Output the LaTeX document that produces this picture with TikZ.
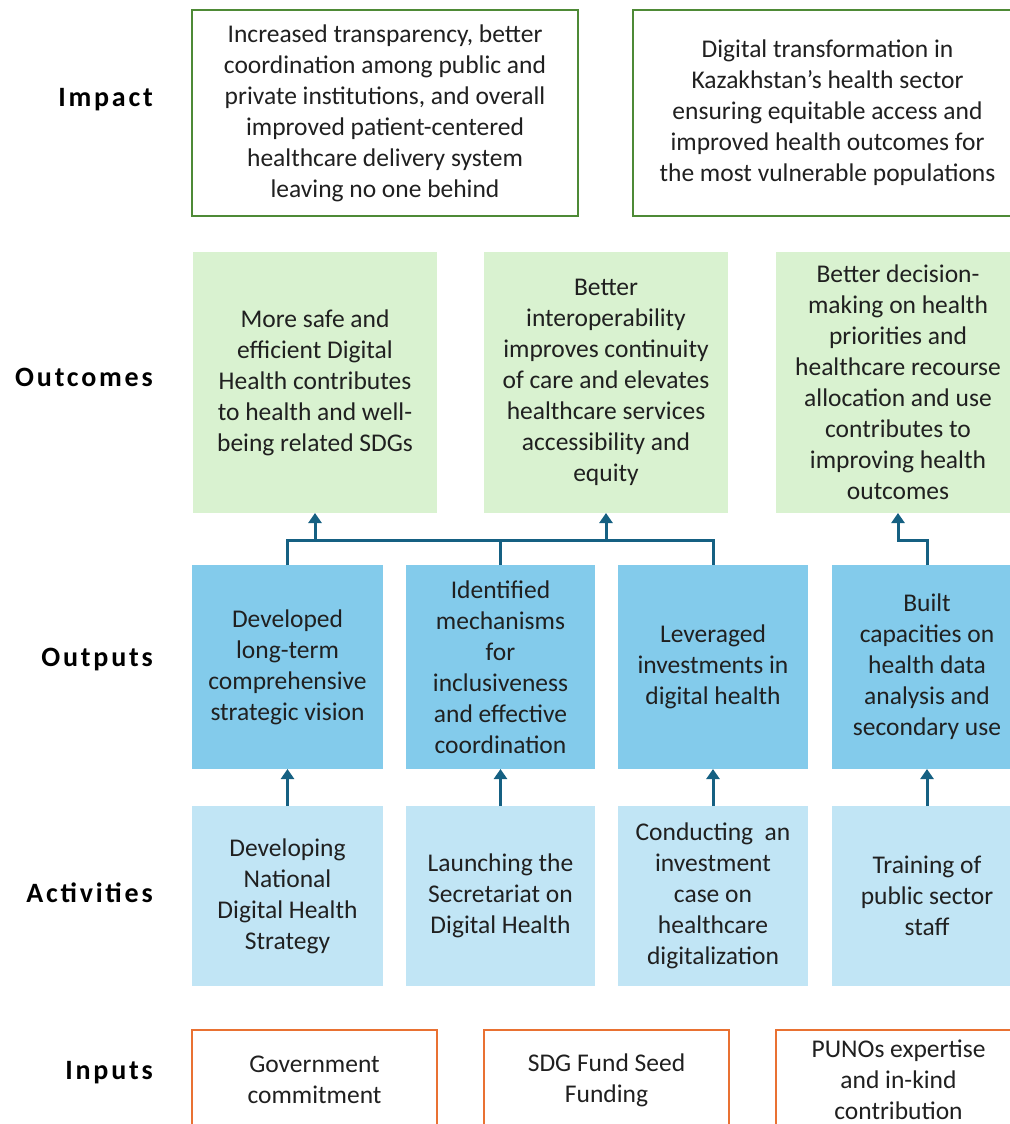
\documentclass[tikz,border=0pt]{standalone}
\usepackage{fontspec}
\setmainfont{Carlito}
\newfontfamily\rowfont[LetterSpace=10]{Carlito}
\usetikzlibrary{arrows.meta,positioning}
\definecolor{ImpactGreen}{HTML}{4E8A36}
\definecolor{OutcomeFill}{HTML}{D9F2D0}
\definecolor{OutputFill}{HTML}{83CBEB}
\definecolor{ActivityFill}{HTML}{C1E5F5}
\definecolor{InputOrange}{HTML}{E97132}
\definecolor{LinkBlue}{HTML}{156082}
\definecolor{TextGray}{HTML}{202020}

\begin{document}
\begin{tikzpicture}[
    x=1pt,y=-1pt,
    box/.style={inner sep=0pt,outer sep=0pt,align=center,text=TextGray,
      font=\fontsize{25.5}{31}\selectfont},
    impactbox/.style={box,draw=ImpactGreen,line width=2.5pt,fill=white,minimum height=206pt},
    outcomebox/.style={box,fill=OutcomeFill,minimum width=244pt,minimum height=261pt},
    outputbox/.style={box,fill=OutputFill,minimum height=204pt},
    activitybox/.style={box,fill=ActivityFill,minimum height=180pt},
    inputbox/.style={box,draw=InputOrange,line width=2.5pt,fill=white,
      minimum width=245pt,minimum height=100pt},
    rowlabel/.style={anchor=east,inner sep=0pt,text=black,
      font=\fontsize{28}{32}\selectfont\rowfont\bfseries},
    wire/.style={line width=3pt,draw=LinkBlue},
    arr/.style={wire,-{Triangle[length=10pt,width=13pt]}}
  ]
    \useasboundingbox (0,0) rectangle (1009,1124);

    % row labels
    \node[rowlabel] (limpact) at (153,100) {Impact};
    \node[rowlabel] (loutcomes) at (153,377) {Outcomes};
    \node[rowlabel] (loutputs) at (153,660) {Outputs};
    \node[rowlabel] (lactivities) at (153,893) {Activities};
    \node[rowlabel] (linputs) at (153,1073) {Inputs};

    % impact
    \node[impactbox,minimum width=386pt] (imp1) at (385,113)
      {Increased transparency, better\\coordination among public and\\private institutions, and overall\\improved patient-centered\\healthcare delivery system\\leaving no one behind};
    \node[impactbox,minimum width=389pt,right=55pt of imp1] (imp2)
      {Digital transformation in\\Kazakhstan's health sector\\ensuring equitable access and\\improved health outcomes for\\the most vulnerable populations};

    % outcomes
    \node[outcomebox] (oc1) at (315,382.5)
      {More safe and\\efficient Digital\\Health contributes\\to health and well-\\being related SDGs};
    \node[outcomebox,right=47pt of oc1] (oc2)
      {Better\\interoperability\\improves continuity\\of care and elevates\\healthcare services\\accessibility and\\equity};
    \node[outcomebox,right=48pt of oc2] (oc3)
      {Better decision-\\making on health\\priorities and\\healthcare recourse\\allocation and use\\contributes to\\improving health\\outcomes};

    % outputs
    \node[outputbox,minimum width=191pt] (out1) at (287.5,667)
      {Developed\\long-term\\comprehensive\\strategic vision};
    \node[outputbox,minimum width=189pt,right=23pt of out1] (out2)
      {Identified\\mechanisms\\for\\inclusiveness\\and effective\\coordination};
    \node[outputbox,minimum width=190pt,right=23pt of out2] (out3)
      {Leveraged\\investments in\\digital health};
    \node[outputbox,minimum width=190pt,right=24pt of out3] (out4)
      {Built\\capacities on\\health data\\analysis and\\secondary use};

    % activities
    \node[activitybox,minimum width=191pt,below=37pt of out1] (act1)
      {Developing\\National\\Digital Health\\Strategy};
    \node[activitybox,minimum width=189pt,below=37pt of out2] (act2)
      {Launching the\\Secretariat on\\Digital Health};
    \node[activitybox,minimum width=190pt,below=37pt of out3] (act3)
      {Conducting\ \ an\\investment\\case on\\healthcare\\digitalization};
    \node[activitybox,minimum width=190pt,below=37pt of out4] (act4)
      {Training of\\public sector\\staff};

    % inputs
    \node[inputbox] (in1) at (314.5,1080) {Government\\commitment};
    \node[inputbox,right=47pt of in1] (in2) {SDG Fund Seed\\Funding};
    \node[inputbox,right=47pt of in2] (in3) {PUNOs expertise\\and in-kind\\contribution};

    % links
    \coordinate (bus) at (0,540);
    \draw[arr] (act1) -- (out1);
    \draw[arr] (act2) -- (out2);
    \draw[arr] (act3) -- (out3);
    \draw[arr] (act4) -- (out4);
    \draw[wire] (out1.north) |- (out3.north |- bus) -- (out3.north);
    \draw[wire] (out2.north) -- (out2.north |- bus);
    \draw[arr] (oc1.south |- bus) -- (oc1.south);
    \draw[arr] (oc2.south |- bus) -- (oc2.south);
    \draw[arr] (out4.north) -- (out4.north |- bus) -| (oc3.south);
  \end{tikzpicture}
\end{document}
